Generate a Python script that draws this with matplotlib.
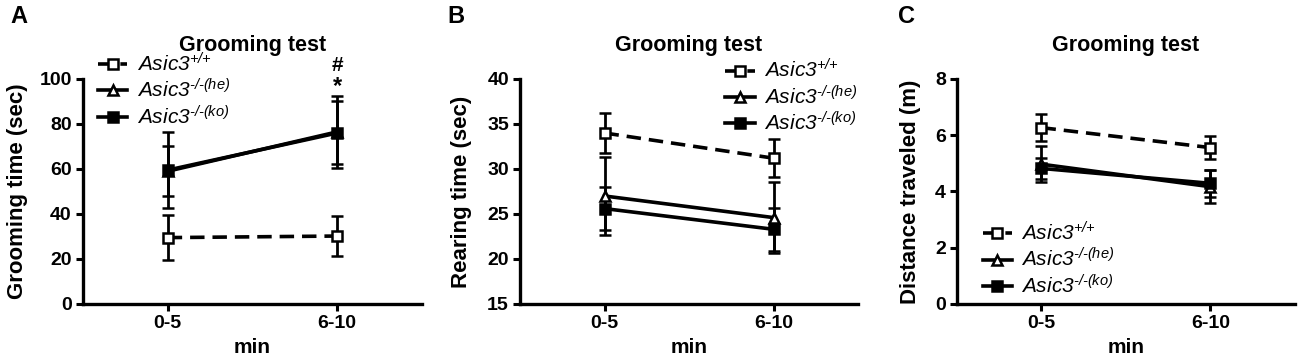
import matplotlib
matplotlib.use("Agg")
import matplotlib.pyplot as plt
from matplotlib.lines import Line2D
import numpy as np

plt.rcParams['font.family'] = ['Liberation Sans', 'DejaVu Sans']
plt.rcParams['mathtext.fontset'] = 'custom'
plt.rcParams['mathtext.rm'] = 'Liberation Sans:italic'
plt.rcParams['mathtext.it'] = 'Liberation Sans:italic'
plt.rcParams['mathtext.sf'] = 'Liberation Sans:italic'

categories = ['0-5', '6-10']
labels = [r'$Asic3^{\text{+/+}}$', r'$Asic3^{\text{-/-(he)}}$', r'$Asic3^{\text{-/-(ko)}}$']

# Panel A: grooming time (sec)
A_wt = [29.5, 30.2]
A_wt_err = [10.0, 9.0]
A_he = [59.0, 76.5]
A_he_err = [11.0, 16.0]
A_ko = [59.5, 76.0]
A_ko_err = [17.0, 14.0]

# Panel B: rearing time (sec)
B_wt = [34.0, 31.2]
B_wt_err = [2.2, 2.1]
B_he = [27.0, 24.6]
B_he_err = [4.3, 3.9]
B_ko = [25.6, 23.3]
B_ko_err = [2.4, 2.4]

# Panel C: distance traveled (m)
C_wt = [6.27, 5.56]
C_wt_err = [0.47, 0.42]
C_he = [4.97, 4.17]
C_he_err = [0.63, 0.58]
C_ko = [4.82, 4.29]
C_ko_err = [0.37, 0.47]

fig = plt.figure(figsize=(13, 3.6), dpi=100)

panels = [
    dict(pos=[0.0638, 0.1556, 0.2608, 0.625], data=(A_wt, A_wt_err, A_he, A_he_err, A_ko, A_ko_err),
         ylim=(0, 100), yticks=[0, 20, 40, 60, 80, 100], ylabel='Grooming time (sec)', letter='A', lx=0.008,
         leg=(0.0755, 0.855), lpad=8),
    dict(pos=[0.4, 0.1556, 0.26, 0.625], data=(B_wt, B_wt_err, B_he, B_he_err, B_ko, B_ko_err),
         ylim=(15, 40), yticks=[15, 20, 25, 30, 35, 40], ylabel='Rearing time (sec)', letter='B', lx=0.344,
         leg=(0.558, 0.837), lpad=11),
    dict(pos=[0.7362, 0.1556, 0.2598, 0.625], data=(C_wt, C_wt_err, C_he, C_he_err, C_ko, C_ko_err),
         ylim=(0, 8), yticks=[0, 2, 4, 6, 8], ylabel='Distance traveled (m)', letter='C', lx=0.691,
         leg=(0.756, 0.385), lpad=10),
]

styles = [
    dict(marker='s', ls=(0, (4, 2.2)), mfc='white'),
    dict(marker='^', ls='-', mfc='white'),
    dict(marker='s', ls='-', mfc='black'),
]

x = np.arange(len(categories))
for p in panels:
    ax = fig.add_axes(p['pos'])
    wt, wte, he, hee, ko, koe = p['data']
    series = [(wt, wte), (he, hee), (ko, koe)]
    for (vals, errs), st in zip(series, styles):
        ax.errorbar(x, vals, yerr=errs, fmt=st['marker'], ls=st['ls'], mfc=st['mfc'], mec='black',
                    color='black', lw=2.6, capsize=4.5, elinewidth=2.0, capthick=2.0, ms=7.5, mew=1.8)
    ax.set_xlim(-0.5, 1.5)
    ax.set_ylim(*p['ylim'])
    ax.set_yticks(p['yticks'])
    ax.set_xticks(x)
    ax.set_xticklabels(categories)
    for s in ['top', 'right']:
        ax.spines[s].set_visible(False)
    for s in ['left', 'bottom']:
        ax.spines[s].set_linewidth(2.4)
    ax.tick_params(axis='both', width=2.2, length=5, labelsize=14, pad=3)
    for t in ax.get_xticklabels() + ax.get_yticklabels():
        t.set_fontweight('bold')
    ax.set_xlabel('min', fontsize=15, fontweight='bold', labelpad=4)
    ax.set_ylabel(p['ylabel'], fontsize=16, fontweight='bold', labelpad=p['lpad'])
    ax.set_title('Grooming test', fontsize=15.5, fontweight='bold', pad=20)
    fig.text(p['lx'], 0.955, p['letter'], fontsize=17, fontweight='bold', va='center', ha='left')
    handles = [Line2D([0], [0], color='black', lw=2.6, ls=st['ls'], marker=st['marker'],
                      mfc=st['mfc'], mec='black', ms=7.5, mew=1.8) for st in styles]
    fig.legend(handles, labels, loc='upper left', bbox_to_anchor=p['leg'],
               bbox_transform=fig.transFigure, frameon=False, fontsize=15,
               handlelength=1.4, handletextpad=0.45, labelspacing=0.15, borderaxespad=0,
               borderpad=0)
    if p['letter'] == 'A':
        ax.text(1, 106, '#', ha='center', va='center', fontsize=15, fontweight='bold', clip_on=False)
        ax.text(1, 96.5, '*', ha='center', va='center', fontsize=17, fontweight='bold', clip_on=False)

fig.savefig('out.png', dpi=100)
